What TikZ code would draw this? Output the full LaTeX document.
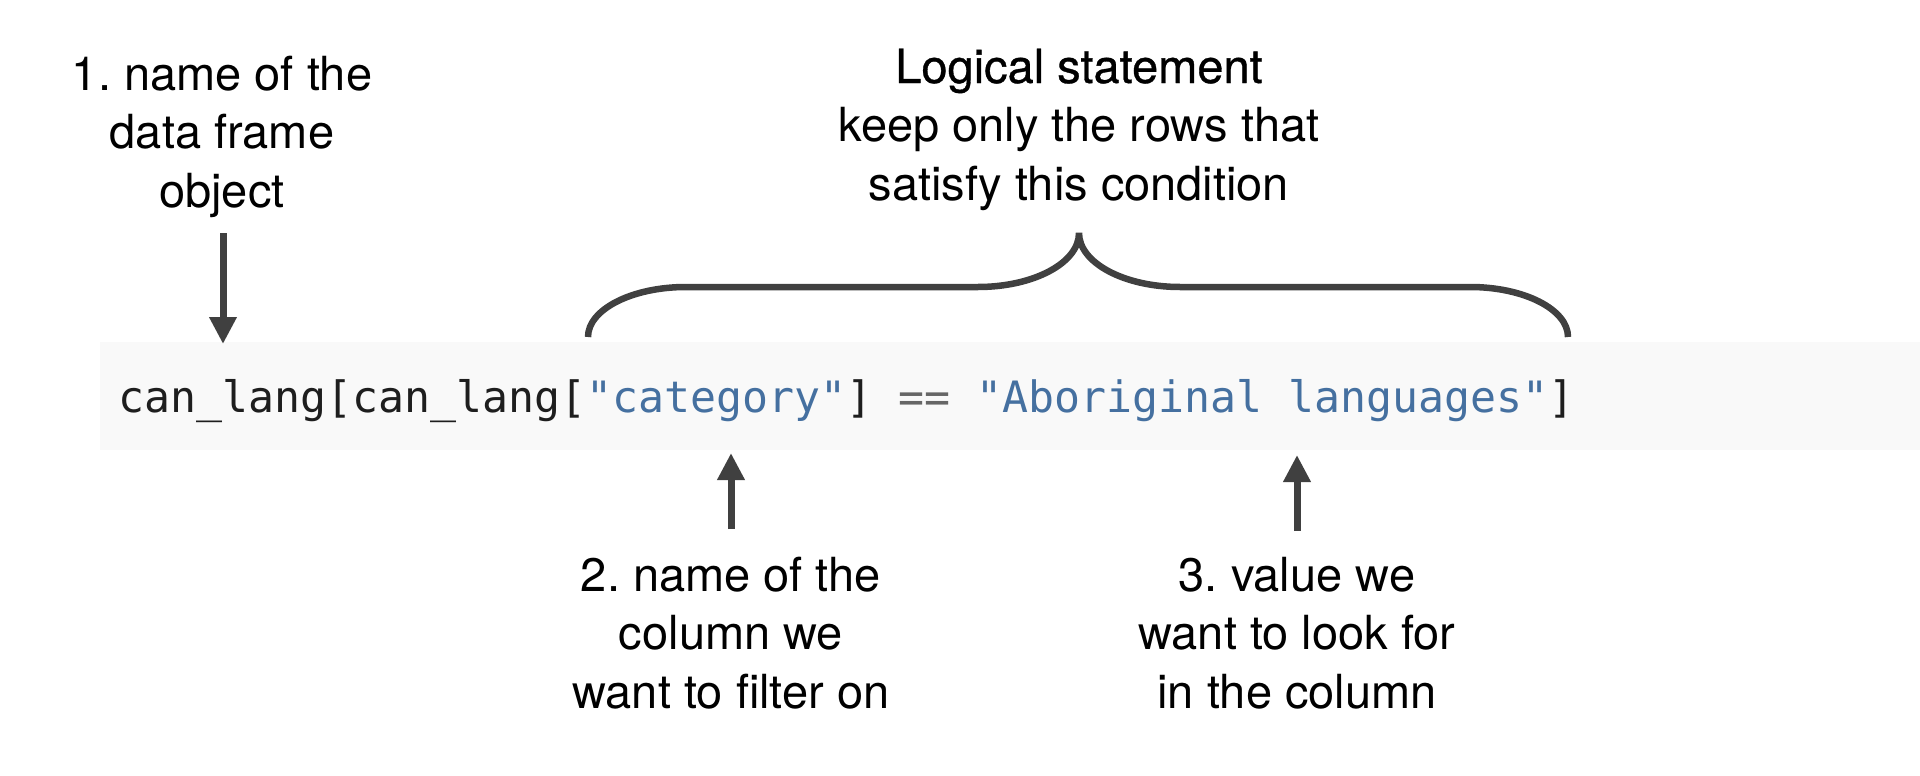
\documentclass[tikz,border=0pt]{standalone}
\usepackage{fontspec}
\setmainfont{TeX Gyre Heros}
\newfontfamily\medfont{TeX Gyre Heros}[FakeBold=0.7]
\newfontfamily\codefont{DejaVu Sans Mono}
\usetikzlibrary{arrows.meta}
\frenchspacing
\definecolor{ink}{HTML}{404040}
\definecolor{codebg}{HTML}{F9F9F9}
\definecolor{codetxt}{HTML}{1E1E1E}
\definecolor{strblue}{HTML}{4570A0}
\definecolor{opgray}{HTML}{666666}
\begin{document}
\begin{tikzpicture}[x=1pt,y=-1pt,
  lbl/.style={align=center, font=\fontsize{47}{58.5}\selectfont, inner sep=0pt, anchor=base},
  ptr/.style={draw=ink, line width=7pt, -{Triangle[width=26pt,length=27pt]}},
  bracestyle/.style={draw=ink, line width=6.5pt}
]
\useasboundingbox (0,0) rectangle (1920,776);
\fill[white] (0,0) rectangle (1920,776);
% code background
\fill[codebg] (100,342) rectangle (1920,450);
% code
\node[inner sep=0pt, anchor=base west, font=\codefont\fontsize{43.2}{50}\selectfont, text=codetxt] (code) at (118,412)
  {can\_lang[can\_lang[\textcolor{strblue}{"category"}] \textcolor{opgray}{==} \textcolor{strblue}{"Aboriginal languages"}]};
% labels (base anchor = baseline of last line)
\node[lbl] (l1) at (222,207) {1. name of the\\data frame\\object};
\node[lbl] (top) at (1079,200) {{\medfont Logical statement}\\keep only the rows that\\satisfy this condition};
\node[lbl] (l2) at (731,708) {2. name of the\\column we\\want to filter on};
\node[lbl] (l3) at (1297,708) {3. value we\\want to look for\\in the column};
% arrows
\coordinate (a1s) at (223,233);
\coordinate (a1e) at (223,344);
\coordinate (a2s) at (731,529);
\coordinate (a2e) at (731,453);
\coordinate (a3s) at (1297,531);
\coordinate (a3e) at (1297,455);
\draw[ptr] (a1s) -- (a1e);
\draw[ptr] (a2s) -- (a2e);
\draw[ptr] (a3s) -- (a3e);
% brace
\coordinate (bl) at (588,337);
\coordinate (bc) at (1079,233);
\coordinate (br) at (1568,337);
\draw[bracestyle] (bl) .. controls (588,309.4) and (631.9,287) .. (686,287)
  -- (978,287) .. controls (1033.8,287) and (1079,262.8) .. (bc)
  .. controls (1079,262.8) and (1124.2,287) .. (1180,287)
  -- (1470,287) .. controls (1524.1,287) and (1568,309.4) .. (br);
\end{tikzpicture}
\end{document}
